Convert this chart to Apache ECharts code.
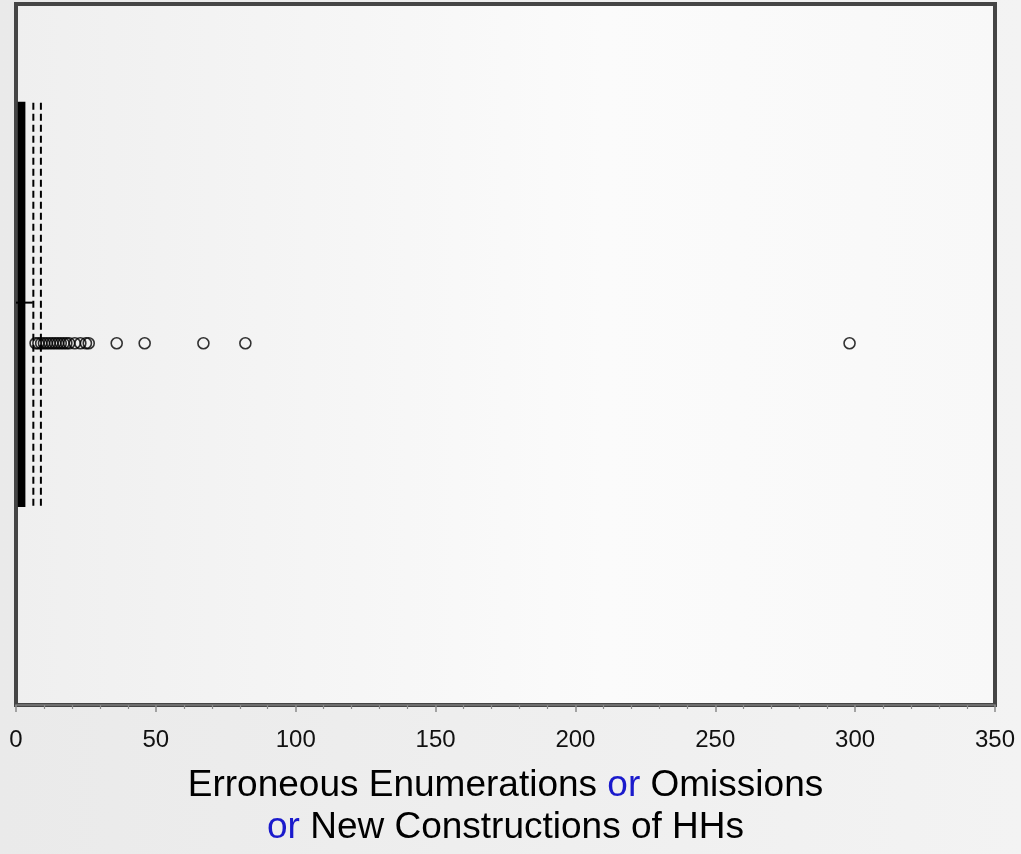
<!DOCTYPE html>
<html>
<head>
<meta charset="utf-8">
<title>Erroneous Enumerations, Omissions or New Constructions of HHs</title>
<script src="https://cdn.jsdelivr.net/npm/echarts@6/dist/echarts.min.js"></script>
<style>
  html, body { margin: 0; padding: 0; background: #ececec; }
  #chart { width: 1021px; height: 854px; }
</style>
</head>
<body>
<div id="chart"></div>
<script>
// Box summary: [lower whisker, Q1, median, Q3, upper whisker]
const boxStats = [0, 1, 2, 3, 6];
// Reference values drawn as dashed vertical lines across the box
const dashedRefs = [6.2, 8.9];
// Points beyond the upper whisker
const outliers = [7, 8, 9, 10, 11, 12, 13, 14, 15, 16, 17, 18, 19, 21, 23, 25, 26, 36, 46, 67, 82, 298];
// x-axis ticks
const xTicks = [0, 50, 100, 150, 200, 250, 300, 350];

// Vertical layout on a hidden 0..1 axis (0 = top of plot)
const BOX_TOP = 0.141;
const BOX_BOTTOM = 0.716;
const WHISKER_ROW = 0.426;
const OUTLIER_ROW = 0.484;

const chart = echarts.init(document.getElementById('chart'));

const FONT = '"Liberation Sans", Arial, sans-serif';

const option = {
  animation: false,
  backgroundColor: {
    type: 'linear', x: 0, y: 0, x2: 1, y2: 0,
    colorStops: [{ offset: 0, color: '#eaeaea' }, { offset: 1, color: '#f3f3f3' }]
  },
  grid: {
    left: 16, right: 26, top: 4, bottom: 139,
    show: true,
    borderColor: '#454545',
    borderWidth: 4,
    backgroundColor: {
      type: 'linear', x: 0, y: 0, x2: 1, y2: 0,
      colorStops: [{ offset: 0, color: '#efefef' }, { offset: 0.6, color: '#fbfbfb' }, { offset: 1, color: '#f8f8f8' }]
    }
  },
  xAxis: {
    type: 'value',
    position: 'bottom',
    min: xTicks[0],
    max: xTicks[xTicks.length - 1],
    interval: 50,
    splitLine: { show: false },
    axisLine: { show: true, onZero: false, lineStyle: { color: '#6e6e6e', width: 2 } },
    axisTick: { show: true, length: 7, lineStyle: { color: '#8a8a8a', width: 1.5 } },
    minorTick: { show: true, splitNumber: 5, length: 4, lineStyle: { color: '#8a8a8a', width: 1.2 } },
    axisLabel: {
      color: '#111', fontSize: 24, fontFamily: FONT, margin: 23,
      formatter: v => (xTicks.indexOf(v) >= 0 ? String(v) : '')
    },
    name: '{b|Erroneous Enumerations }{o|or}{b| Omissions}\n{o|or}{b| New Constructions of HHs}',
    nameLocation: 'middle',
    nameGap: 60,
    nameTextStyle: {
      fontFamily: FONT,
      fontSize: 37,
      lineHeight: 42,
      align: 'center',
      rich: {
        b: { color: '#000', fontSize: 37, fontFamily: FONT, lineHeight: 42 },
        o: { color: '#1a1acc', fontSize: 37, fontFamily: FONT, lineHeight: 42 }
      }
    }
  },
  yAxis: {
    type: 'value',
    min: 0, max: 1,
    inverse: true,
    show: false,
    splitLine: { show: false }
  },
  series: [
    {
      // Box, median and whiskers
      type: 'custom',
      data: [boxStats],
      dimensions: ['low', 'q1', 'median', 'q3', 'high'],
      encode: { x: [0, 1, 2, 3, 4] },
      renderItem: function (params, api) {
        const low = api.value(0), q1 = api.value(1), med = api.value(2), q3 = api.value(3), high = api.value(4);
        const tl = api.coord([q1, BOX_TOP]);
        const br = api.coord([q3, BOX_BOTTOM]);
        const wL = api.coord([low, WHISKER_ROW]);
        const wQ1 = api.coord([q1, WHISKER_ROW]);
        const wQ3 = api.coord([q3, WHISKER_ROW]);
        const wH = api.coord([high, WHISKER_ROW]);
        const m1 = api.coord([med, BOX_TOP]);
        const m2 = api.coord([med, BOX_BOTTOM]);
        const stroke = { stroke: '#000', lineWidth: 2 };
        return {
          type: 'group',
          children: [
            { type: 'line', shape: { x1: wL[0], y1: wL[1], x2: wQ1[0], y2: wQ1[1] }, style: stroke },
            { type: 'line', shape: { x1: wQ3[0], y1: wQ3[1], x2: wH[0], y2: wH[1] }, style: stroke },
            { type: 'rect', shape: { x: tl[0], y: tl[1], width: br[0] - tl[0], height: br[1] - tl[1] },
              style: { fill: '#000', stroke: '#000', lineWidth: 2 } },
            { type: 'line', shape: { x1: m1[0], y1: m1[1], x2: m2[0], y2: m2[1] }, style: stroke }
          ]
        };
      },
      z: 3
    },
    {
      // Dashed reference lines spanning the box height
      type: 'custom',
      data: dashedRefs.map(v => [v]),
      encode: { x: 0 },
      renderItem: function (params, api) {
        const a = api.coord([api.value(0), BOX_TOP]);
        const b = api.coord([api.value(0), BOX_BOTTOM]);
        return {
          type: 'line',
          shape: { x1: a[0], y1: a[1], x2: b[0], y2: b[1] },
          style: { stroke: '#000', lineWidth: 2, lineDash: [7, 4] }
        };
      },
      z: 2
    },
    {
      type: 'scatter',
      data: outliers.map(v => [v, OUTLIER_ROW]),
      symbol: 'circle',
      symbolSize: 11,
      itemStyle: { color: 'rgba(0,0,0,0)', borderColor: '#000', borderWidth: 1.6 },
      z: 4
    }
  ]
};

chart.setOption(option);
</script>
</body>
</html>
